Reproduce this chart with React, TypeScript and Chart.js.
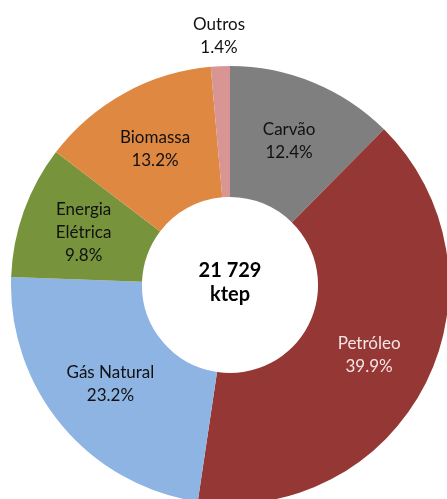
import React, { useEffect, useRef } from "react";
import { Chart, registerables } from "chart.js";

Chart.register(...registerables);

const categories = ["Carvão", "Petróleo", "Gás Natural", "Energia Elétrica", "Biomassa", "Outros"];
const labelLines = [["Carvão"], ["Petróleo"], ["Gás Natural"], ["Energia", "Elétrica"], ["Biomassa"], ["Outros"]];
const shares = [12.4, 39.9, 23.2, 9.8, 13.2, 1.4];
const sliceColors = ["#7F7F7F", "#953735", "#8DB4E2", "#77933C", "#DF8841", "#D99594"];
const labelColors = ["#111111", "#F5E6E6", "#111111", "#111111", "#111111", "#111111"];
const centerLines = ["21 729", "ktep"];

const FONT = "Lato, 'Open Sans', sans-serif";

const labelPlugin = {
  id: "sliceLabels",
  afterDatasetsDraw(chart: any) {
    const ctx = chart.ctx;
    const meta = chart.getDatasetMeta(0);
    ctx.save();
    ctx.textAlign = "center";
    ctx.textBaseline = "middle";
    ctx.font = `17px ${FONT}`;
    const lineH = 23;
    meta.data.forEach((arc: any, i: number) => {
      const p = arc.getProps(["x", "y", "startAngle", "endAngle", "innerRadius", "outerRadius"], true);
      const mid = (p.startAngle + p.endAngle) / 2;
      const small = shares[i] < 5;
      const r = small ? p.outerRadius + 30 : (p.innerRadius + p.outerRadius) / 2 + 2;
      const cx = p.x + Math.cos(mid) * r;
      const cy = p.y + Math.sin(mid) * r;
      const lines = [...labelLines[i], shares[i].toFixed(1) + "%"];
      const top = cy - ((lines.length - 1) * lineH) / 2;
      ctx.fillStyle = small ? "#111111" : labelColors[i];
      lines.forEach((t, k) => ctx.fillText(t, cx, top + k * lineH));
    });
    const a = meta.data[0];
    ctx.font = `bold 20px ${FONT}`;
    ctx.fillStyle = "#000";
    ctx.fillText(centerLines[0], a.x, a.y - 14);
    ctx.fillText(centerLines[1], a.x, a.y + 10);
    ctx.restore();
  },
};

export default function App() {
  const ref = useRef<HTMLCanvasElement>(null);
  useEffect(() => {
    if (!ref.current) return;
    const chart = new Chart(ref.current, {
      type: "doughnut",
      data: {
        labels: categories,
        datasets: [
          {
            data: shares,
            backgroundColor: sliceColors,
            borderWidth: 0,
          },
        ],
      },
      options: {
        responsive: false,
        animation: false,
        radius: 219,
        cutout: "40.2%",
        layout: { padding: { left: 13, top: 71, right: 0, bottom: 0 } },
        plugins: { legend: { display: false }, tooltip: { enabled: false } },
      },
      plugins: [labelPlugin],
    } as any);
    return () => chart.destroy();
  }, []);
  return (
    <div style={{ position: "fixed", left: 0, top: 0, width: 447, height: 499, overflow: "hidden", background: "#fff" }}>
      <canvas ref={ref} width={447} height={499} style={{ display: "block" }} />
    </div>
  );
}
